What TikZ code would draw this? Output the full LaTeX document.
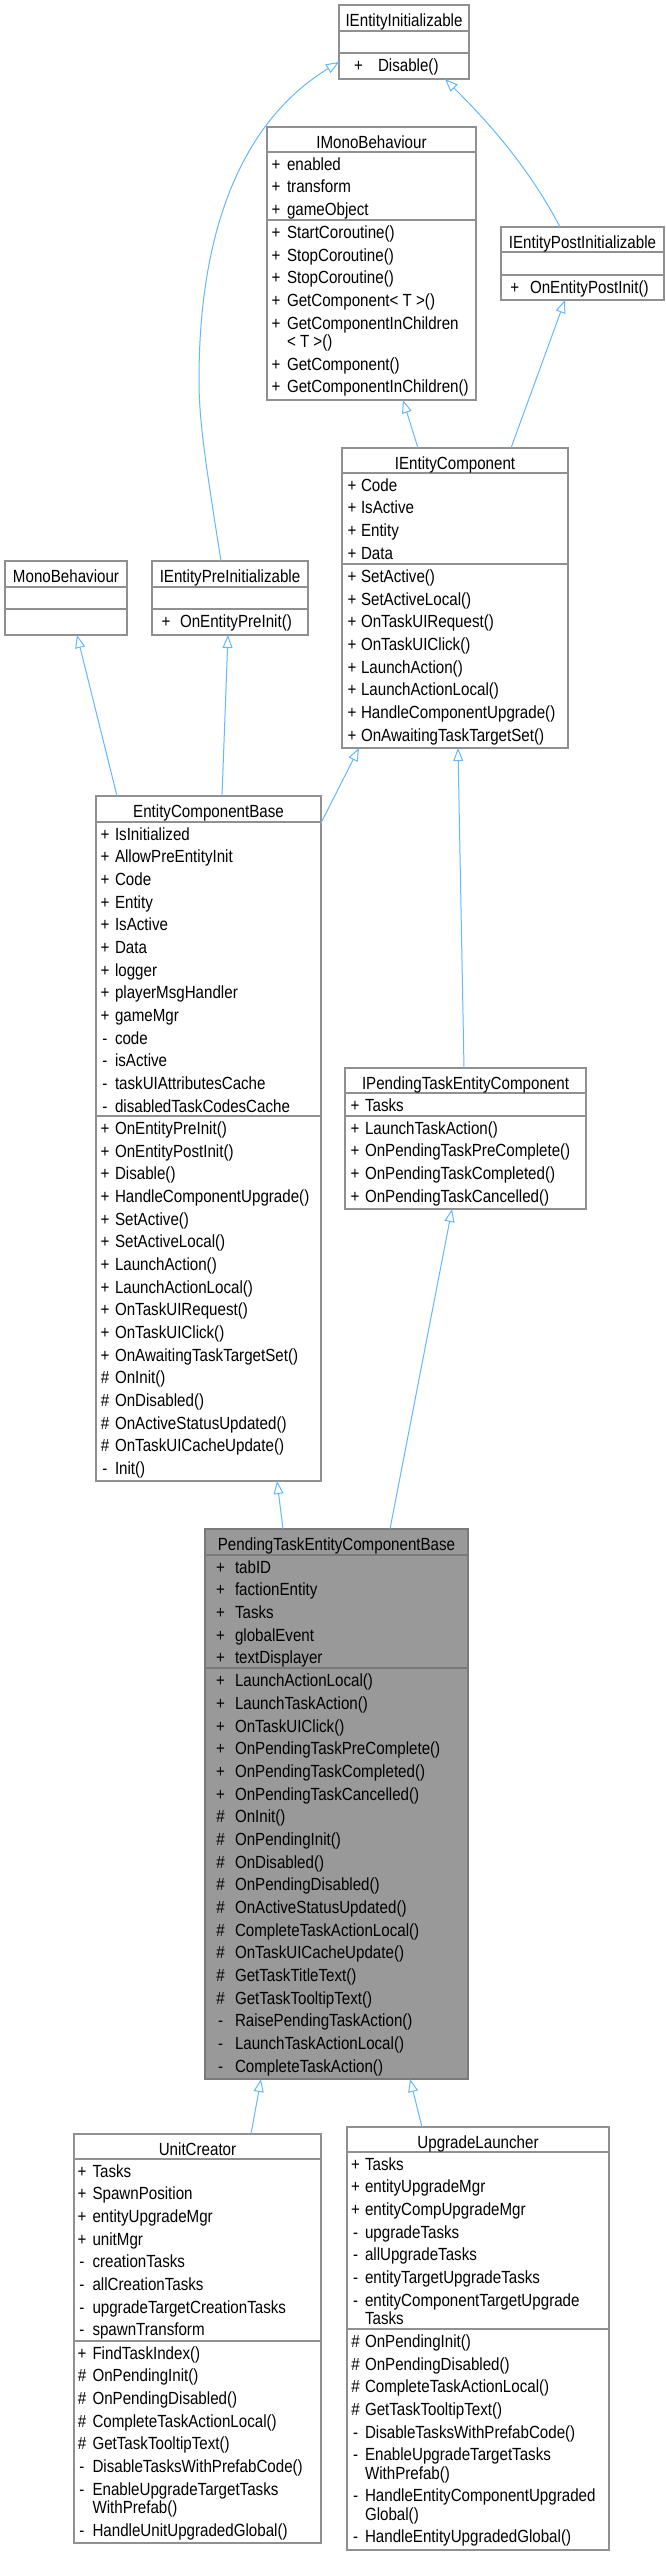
\documentclass[tikz,border=0pt]{standalone}
\usepackage{fontspec}
\setmainfont{Liberation Sans}[FakeStretch=0.86]
\usetikzlibrary{arrows.meta}
\definecolor{edgeblue}{HTML}{63B8FF}
\definecolor{boxline}{HTML}{909090}
\definecolor{mainfill}{HTML}{999999}
\definecolor{mainline}{HTML}{7A7A7A}
\newcounter{rc}
\newcommand\mrow[2]{\stepcounter{rc}%
  \node[mt,anchor=base] (s\arabic{rc}) at (\sx,\cy) {#1};%
  \node[mt,anchor=base west] (t\arabic{rc}) at (\tx,\cy) {#2};%
  \pgfmathsetmacro\cy{\cy+22.67}}
\newcommand\mcont[1]{\stepcounter{rc}%
  \pgfmathsetmacro\cy{\cy-4.37}%
  \node[mt,anchor=base west] (t\arabic{rc}) at (\tx,\cy) {#1};%
  \pgfmathsetmacro\cy{\cy+22.67}}
\newcommand\sepline[2]{\draw[sepl] ([yshift=-#2pt]#1.north west) -- ([yshift=-#2pt]#1.north east);}
\begin{document}
\begin{tikzpicture}[x=1pt,y=-1pt,
  mt/.style={inner sep=0pt,outer sep=0pt,font=\fontsize{17.6}{20}\selectfont},
  cls/.style={draw=boxline,line width=1.3pt,fill=white,inner sep=0pt,outer sep=0pt,anchor=north west},
  mainbox/.style={cls,draw=mainline,fill=mainfill},
  sepl/.style={draw=boxline,line width=1.3pt},
  inh/.style={draw=edgeblue,line width=1pt,-{Triangle[open,length=13pt,width=10pt]}}]
\useasboundingbox (0,0) rectangle (665,2556);
\fill[white] (0,0) rectangle (665,2556);

% ---------- IEntityInitializable
\node[cls,minimum width=130pt,minimum height=74pt] (ei) at (339,5) {};
\sepline{ei}{26}\sepline{ei}{48}
\node[mt,anchor=base] (eiT) at (404,26.5) {IEntityInitializable};
\def\sx{358.5}\def\tx{378}\def\cy{71.5}
\mrow{+}{Disable()}

% ---------- IMonoBehaviour
\node[cls,minimum width=209pt,minimum height=273pt] (imb) at (267,127) {};
\sepline{imb}{25}\sepline{imb}{93}
\node[mt,anchor=base] (imbT) at (371.5,148.5) {IMonoBehaviour};
\def\sx{276}\def\tx{287}\def\cy{170}
\mrow{+}{enabled}
\mrow{+}{transform}
\mrow{+}{gameObject}
\def\cy{238.5}
\mrow{+}{StartCoroutine()}
\mrow{+}{StopCoroutine()}
\mrow{+}{StopCoroutine()}
\mrow{+}{GetComponent< T >()}
\mrow{+}{GetComponentInChildren}
\mcont{< T >()}
\mrow{+}{GetComponent()}
\mrow{+}{GetComponentInChildren()}

% ---------- IEntityPostInitializable
\node[cls,minimum width=163pt,minimum height=73pt] (epost) at (501,227) {};
\sepline{epost}{25}\sepline{epost}{48}
\node[mt,anchor=base] (epostT) at (582.5,248.5) {IEntityPostInitializable};
\def\sx{514.7}\def\tx{530}\def\cy{293}
\mrow{+}{OnEntityPostInit()}

% ---------- IEntityComponent
\node[cls,minimum width=226pt,minimum height=300pt] (ec) at (342,448) {};
\sepline{ec}{25}\sepline{ec}{116}
\node[mt,anchor=base] (ecT) at (455,469.5) {IEntityComponent};
\def\sx{352}\def\tx{361}\def\cy{491}
\mrow{+}{Code}
\mrow{+}{IsActive}
\mrow{+}{Entity}
\mrow{+}{Data}
\def\cy{582.5}
\mrow{+}{SetActive()}
\mrow{+}{SetActiveLocal()}
\mrow{+}{OnTaskUIRequest()}
\mrow{+}{OnTaskUIClick()}
\mrow{+}{LaunchAction()}
\mrow{+}{LaunchActionLocal()}
\mrow{+}{HandleComponentUpgrade()}
\mrow{+}{OnAwaitingTaskTargetSet()}

% ---------- MonoBehaviour
\node[cls,minimum width=122pt,minimum height=74pt] (mb) at (5,561) {};
\sepline{mb}{26}\sepline{mb}{48}
\node[mt,anchor=base] (mbT) at (66,582.5) {MonoBehaviour};

% ---------- IEntityPreInitializable
\node[cls,minimum width=156pt,minimum height=74pt] (epre) at (152,561) {};
\sepline{epre}{26}\sepline{epre}{48}
\node[mt,anchor=base] (epreT) at (230,582.5) {IEntityPreInitializable};
\def\sx{166}\def\tx{180}\def\cy{627}
\mrow{+}{OnEntityPreInit()}

% ---------- EntityComponentBase
\node[cls,minimum width=225pt,minimum height=685pt] (ecb) at (96,796) {};
\sepline{ecb}{26}\sepline{ecb}{320}
\node[mt,anchor=base] (ecbT) at (208.5,817.5) {EntityComponentBase};
\def\sx{105}\def\tx{115}\def\cy{840}
\mrow{+}{IsInitialized}
\mrow{+}{AllowPreEntityInit}
\mrow{+}{Code}
\mrow{+}{Entity}
\mrow{+}{IsActive}
\mrow{+}{Data}
\mrow{+}{logger}
\mrow{+}{playerMsgHandler}
\mrow{+}{gameMgr}
\mrow{-}{code}
\mrow{-}{isActive}
\mrow{-}{taskUIAttributesCache}
\mrow{-}{disabledTaskCodesCache}
\def\cy{1134.5}
\mrow{+}{OnEntityPreInit()}
\mrow{+}{OnEntityPostInit()}
\mrow{+}{Disable()}
\mrow{+}{HandleComponentUpgrade()}
\mrow{+}{SetActive()}
\mrow{+}{SetActiveLocal()}
\mrow{+}{LaunchAction()}
\mrow{+}{LaunchActionLocal()}
\mrow{+}{OnTaskUIRequest()}
\mrow{+}{OnTaskUIClick()}
\mrow{+}{OnAwaitingTaskTargetSet()}
\mrow{\#}{OnInit()}
\mrow{\#}{OnDisabled()}
\mrow{\#}{OnActiveStatusUpdated()}
\mrow{\#}{OnTaskUICacheUpdate()}
\mrow{-}{Init()}

% ---------- IPendingTaskEntityComponent
\node[cls,minimum width=241pt,minimum height=141pt] (iptec) at (345,1068) {};
\sepline{iptec}{25}\sepline{iptec}{48}
\node[mt,anchor=base] (iptecT) at (465.5,1089.5) {IPendingTaskEntityComponent};
\def\sx{355}\def\tx{365}\def\cy{1111}
\mrow{+}{Tasks}
\def\cy{1134}
\mrow{+}{LaunchTaskAction()}
\mrow{+}{OnPendingTaskPreComplete()}
\mrow{+}{OnPendingTaskCompleted()}
\mrow{+}{OnPendingTaskCancelled()}

% ---------- PendingTaskEntityComponentBase
\node[mainbox,minimum width=263pt,minimum height=550pt] (ptecb) at (205,1529) {};
\draw[sepl,draw=mainline] ([yshift=-26pt]ptecb.north west) -- ([yshift=-26pt]ptecb.north east);
\draw[sepl,draw=mainline] ([yshift=-139pt]ptecb.north west) -- ([yshift=-139pt]ptecb.north east);
\node[mt,anchor=base] (ptecbT) at (336.5,1550.5) {PendingTaskEntityComponentBase};
\def\sx{220.6}\def\tx{235}\def\cy{1573}
\mrow{+}{tabID}
\mrow{+}{factionEntity}
\mrow{+}{Tasks}
\mrow{+}{globalEvent}
\mrow{+}{textDisplayer}
\def\cy{1686.8}
\mrow{+}{LaunchActionLocal()}
\mrow{+}{LaunchTaskAction()}
\mrow{+}{OnTaskUIClick()}
\mrow{+}{OnPendingTaskPreComplete()}
\mrow{+}{OnPendingTaskCompleted()}
\mrow{+}{OnPendingTaskCancelled()}
\mrow{\#}{OnInit()}
\mrow{\#}{OnPendingInit()}
\mrow{\#}{OnDisabled()}
\mrow{\#}{OnPendingDisabled()}
\mrow{\#}{OnActiveStatusUpdated()}
\mrow{\#}{CompleteTaskActionLocal()}
\mrow{\#}{OnTaskUICacheUpdate()}
\mrow{\#}{GetTaskTitleText()}
\mrow{\#}{GetTaskTooltipText()}
\mrow{-}{RaisePendingTaskAction()}
\mrow{-}{LaunchTaskActionLocal()}
\mrow{-}{CompleteTaskAction()}

% ---------- UnitCreator
\node[cls,minimum width=247pt,minimum height=409pt] (uc) at (74,2134) {};
\sepline{uc}{25}\sepline{uc}{207}
\node[mt,anchor=base] (ucT) at (197.5,2155.5) {UnitCreator};
\def\sx{82}\def\tx{92.5}\def\cy{2177}
\mrow{+}{Tasks}
\mrow{+}{SpawnPosition}
\mrow{+}{entityUpgradeMgr}
\mrow{+}{unitMgr}
\mrow{-}{creationTasks}
\mrow{-}{allCreationTasks}
\mrow{-}{upgradeTargetCreationTasks}
\mrow{-}{spawnTransform}
\def\cy{2359}
\mrow{+}{FindTaskIndex()}
\mrow{\#}{OnPendingInit()}
\mrow{\#}{OnPendingDisabled()}
\mrow{\#}{CompleteTaskActionLocal()}
\mrow{\#}{GetTaskTooltipText()}
\mrow{-}{DisableTasksWithPrefabCode()}
\mrow{-}{EnableUpgradeTargetTasks}
\mcont{WithPrefab()}
\mrow{-}{HandleUnitUpgradedGlobal()}

% ---------- UpgradeLauncher
\node[cls,minimum width=262pt,minimum height=423pt] (ul) at (347,2127) {};
\sepline{ul}{25}\sepline{ul}{202}
\node[mt,anchor=base] (ulT) at (478,2148.5) {UpgradeLauncher};
\def\sx{355.6}\def\tx{365}\def\cy{2170}
\mrow{+}{Tasks}
\mrow{+}{entityUpgradeMgr}
\mrow{+}{entityCompUpgradeMgr}
\mrow{-}{upgradeTasks}
\mrow{-}{allUpgradeTasks}
\mrow{-}{entityTargetUpgradeTasks}
\mrow{-}{entityComponentTargetUpgrade}
\mcont{Tasks}
\def\cy{2347.5}
\mrow{\#}{OnPendingInit()}
\mrow{\#}{OnPendingDisabled()}
\mrow{\#}{CompleteTaskActionLocal()}
\mrow{\#}{GetTaskTooltipText()}
\mrow{-}{DisableTasksWithPrefabCode()}
\mrow{-}{EnableUpgradeTargetTasks}
\mcont{WithPrefab()}
\mrow{-}{HandleEntityComponentUpgraded}
\mcont{Global()}
\mrow{-}{HandleEntityUpgradedGlobal()}

% ---------- inheritance connectors
\draw[inh] ([xshift=69pt]epre.north west) .. controls (205,460) and (199,420) .. (199,380)
   .. controls (199,200) and (260,110) .. ([yshift=-57pt]ei.north west);
\draw[inh] ([xshift=59pt]epost.north west) .. controls (525,160) and (478,112) .. ([xshift=106pt]ei.south west);
\draw[inh] ([xshift=76pt]ec.north west) -- ([xshift=136pt]imb.south west);
\draw[inh] ([xshift=169pt]ec.north west) -- ([xshift=64pt]epost.south west);
\draw[inh] ([xshift=21pt]ecb.north west) -- ([xshift=72pt]mb.south west);
\draw[inh] ([xshift=126pt]ecb.north west) -- ([xshift=76pt]epre.south west);
\draw[inh] ([yshift=-27pt]ecb.north east) -- ([xshift=17pt]ec.south west);
\draw[inh] ([xshift=119pt]iptec.north west) -- ([xshift=116pt]ec.south west);
\draw[inh] ([xshift=78pt]ptecb.north west) -- ([xshift=181pt]ecb.south west);
\draw[inh] ([xshift=185pt]ptecb.north west) -- ([xshift=107pt]iptec.south west);
\draw[inh] ([xshift=177pt]uc.north west) -- ([xshift=56pt]ptecb.south west);
\draw[inh] ([xshift=75pt]ul.north west) -- ([xshift=205pt]ptecb.south west);
\end{tikzpicture}
\end{document}
